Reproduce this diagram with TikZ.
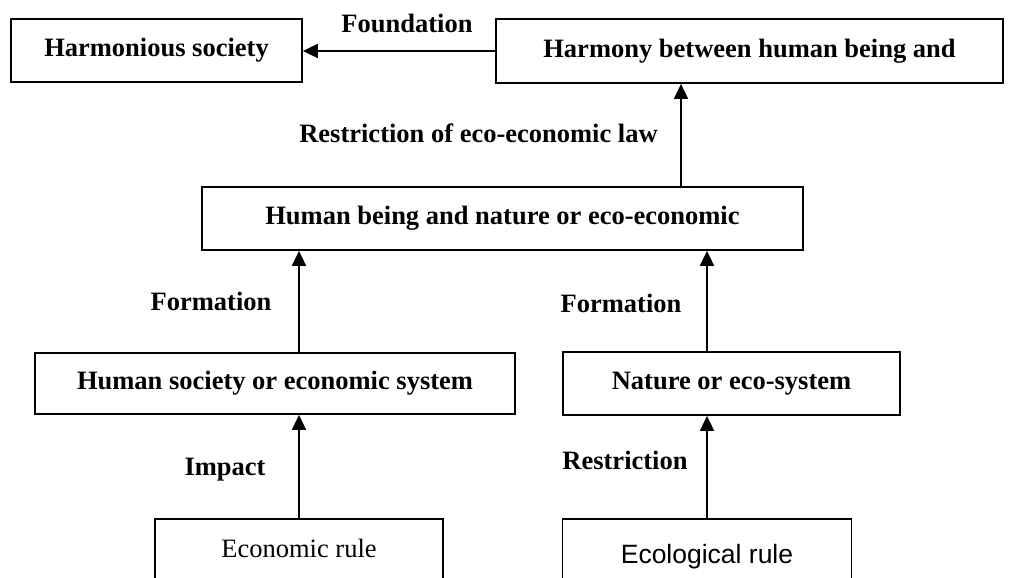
\documentclass[tikz,border=0pt]{standalone}
\usepackage{fontspec}
\setmainfont{Liberation Serif}
\newfontfamily\arialfont{Liberation Sans}
\usetikzlibrary{arrows.meta}
\begin{document}
\begin{tikzpicture}[x=1pt,y=-1pt,
box/.style={draw,line width=1.8pt,inner sep=0pt,font=\fontsize{26.5}{30}\selectfont\bfseries},
rulebox/.style={draw,line width=1.8pt,inner sep=0pt,anchor=north,font=\fontsize{26.5}{30}\selectfont},
lab/.style={inner sep=0pt,font=\fontsize{26.5}{30}\selectfont\bfseries},
arr/.style={line width=1.8pt,-{Triangle[length=15pt,width=14pt]}}]
\useasboundingbox (0,0) rectangle (1015,578);
\clip (0,0) rectangle (1015,578);

\draw (156.5,50.5) node[box,minimum width=291pt,minimum height=63pt] (soc) {Harmonious society};
\draw (749.5,51) node[box,minimum width=507pt,minimum height=64pt] (harm) {Harmony between human being and};
\draw (502.5,218.5) node[box,minimum width=601pt,minimum height=63pt] (eco) {Human being and nature or eco-economic};
\draw (275,383.5) node[box,minimum width=480pt,minimum height=61pt] (hsoc) {Human society or economic system};
\draw (731.5,383.5) node[box,minimum width=337pt,minimum height=63pt] (nat) {Nature or eco-system};
\draw (299,518) node[rulebox,minimum width=288pt,minimum height=66pt,text depth=8pt] (erule) {Economic rule};
\draw (707,518) node[rulebox,minimum width=289pt,minimum height=76pt,font={\fontsize{26.5}{30}\arialfont}] (lrule) {Ecological rule};

\draw[arr] (harm.west) -- (harm.west -| soc.east);
\draw[arr] ([xshift=178.5pt]eco.north) -- ([xshift=178.5pt]eco.north |- harm.south);
\draw[arr] (hsoc.north -| erule.north) -- (eco.south -| erule.north);
\draw[arr] (nat.north -| lrule.north) -- (eco.south -| lrule.north);
\draw[arr] (erule.north) -- (erule.north |- hsoc.south);
\draw[arr] (lrule.north) -- (lrule.north |- nat.south);

\draw (407,23) node[lab] (found) {Foundation};
\draw (478.5,133) node[lab] (restr) {Restriction of eco-economic law};
\draw (211,301) node[lab] (form1) {Formation};
\draw (621,303) node[lab] (form2) {Formation};
\draw (225,470) node[lab] (imp) {Impact};
\draw (625,460) node[lab] (restr2) {Restriction};
\end{tikzpicture}
\end{document}
